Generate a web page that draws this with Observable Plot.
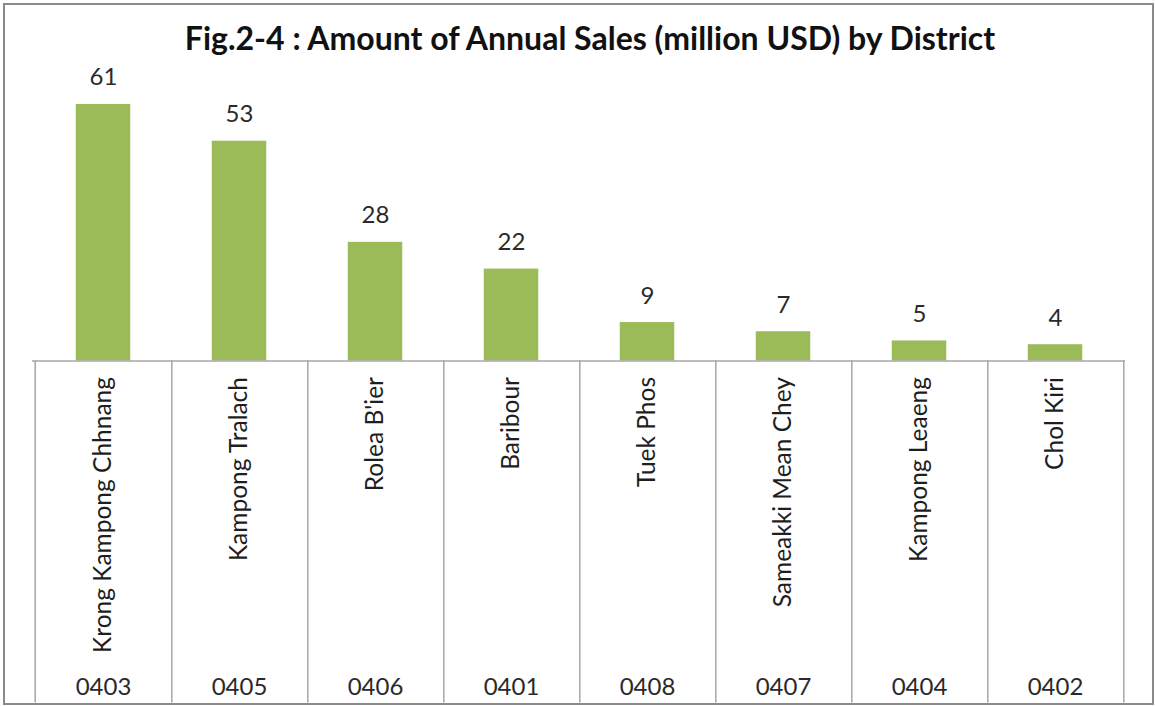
<!DOCTYPE html>
<html>
<head>
<meta charset="utf-8">
<script src="https://cdn.jsdelivr.net/npm/d3@7"></script>
<script src="https://cdn.jsdelivr.net/npm/@observablehq/plot@0.6"></script>
<style>
  html, body { margin: 0; padding: 0; background: #fff; }
  #wrap { position: relative; width: 1155px; height: 706px; overflow: hidden; font-family: Lato, "Open Sans", sans-serif; }
  #frame { position: absolute; left: 3px; top: 3px; width: 1147px; height: 698px; border: 2px solid #8a8a8a; pointer-events: none; }
  #title { height: 60px; box-sizing: border-box; padding-top: 22px; text-align: center; font-weight: bold; font-size: 32px; line-height: 32px; color: #111; padding-left: 25px; }
  #chart svg { display: block; }
</style>
</head>
<body>
<div id="wrap">
  <div id="title">Fig.2-4 : Amount of Annual Sales (million USD) by District</div>
  <div id="chart"></div>
  <div id="frame"></div>
</div>
<script>
const codes = ["0403", "0405", "0406", "0401", "0408", "0407", "0404", "0402"];
const names = ["Krong Kampong Chhnang", "Kampong Tralach", "Rolea B'ier", "Baribour", "Tuek Phos", "Sameakki Mean Chey", "Kampong Leaeng", "Chol Kiri"];
const sales = [61.4, 52.6, 28.4, 22.0, 9.2, 7.0, 4.8, 3.9];

const data = codes.map((c, i) => ({code: c, name: names[i], value: sales[i]}));
const nameOf = new Map(codes.map((c, i) => [c, names[i]]));

const W = 1155, H = 646, mL = 32, mR = 30, mT = 8, mB = 345.5;
const step = (W - mL - mR) / codes.length;
const cellDepth = 342;
const lineColor = "#a6a6a6";

const chart = Plot.plot({
  width: W,
  height: H,
  marginLeft: mL,
  marginRight: mR,
  marginTop: mT,
  marginBottom: mB,
  style: {fontFamily: "Lato, 'Open Sans', sans-serif", color: "#333", background: "transparent"},
  x: {type: "band", domain: codes, padding: 0, axis: null, label: null},
  y: {domain: [0, 70], axis: null},
  marks: [
    Plot.barY(data, {x: "code", y: "value", fill: "#9BBB59", insetLeft: 40.75, insetRight: 40.75}),
    Plot.text(data, {x: "code", y: "value", text: d => String(Math.round(d.value)), lineAnchor: "bottom", dy: -19, fontSize: 24, fill: "#2a2a2a"}),
    Plot.ruleY([0], {stroke: lineColor, strokeWidth: 1.5}),
    // cell separators (right edge of each band)
    Plot.axisX(codes, {anchor: "bottom", tickSize: cellDepth, dx: step / 2, tickFormat: () => "", label: null, stroke: lineColor, strokeWidth: 1.5}),
    // left edge of first band
    Plot.axisX([codes[0]], {anchor: "bottom", tickSize: cellDepth, dx: -step / 2, tickFormat: () => "", label: null, stroke: lineColor, strokeWidth: 1.5}),
    // district names, rotated
    Plot.axisX(codes, {anchor: "bottom", tickSize: 0, tickPadding: 16, tickRotate: -90, tickFormat: c => nameOf.get(c), label: null, fontSize: 24.5, fill: "#1e1e1e"}),
    // district codes
    Plot.axisX(codes, {anchor: "bottom", tickSize: 0, tickPadding: 317, tickFormat: c => c, label: null, fontSize: 24, fill: "#2a2a2a"})
  ]
});
document.getElementById("chart").appendChild(chart);
</script>
</body>
</html>
